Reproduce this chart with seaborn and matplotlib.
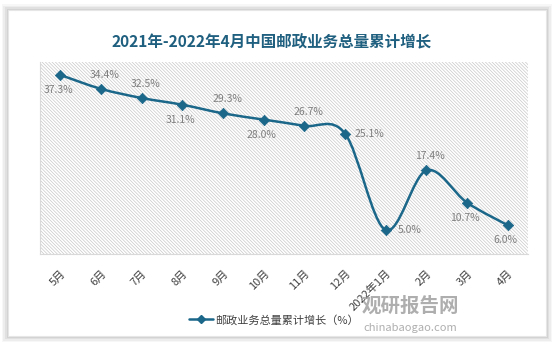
import numpy as np
import matplotlib
matplotlib.use("Agg")
import matplotlib.pyplot as plt
import seaborn as sns
from matplotlib.path import Path
from matplotlib.patches import PathPatch, Rectangle
from matplotlib.lines import Line2D

months = ["5月", "6月", "7月", "8月", "9月", "10月", "11月", "12月",
          "2022年1月", "2月", "3月", "4月"]
growth = [37.3, 34.4, 32.5, 31.1, 29.3, 28.0, 26.7, 25.1, 5.0, 17.4, 10.7, 6.0]
label_pos = ["below", "above", "above", "below", "above", "below", "above",
             "right", "right", "above", "below", "below"]
title = "2021年-2022年4月中国邮政业务总量累计增长"
legend_label = "邮政业务总量累计增长（%）"

sns.set_theme(style="white")
plt.rcParams['font.family'] = ['Noto Sans CJK SC', 'DejaVu Sans']

LINE = "#1b678a"
W, H = 554, 344
fig = plt.figure(figsize=(W / 100, H / 100), dpi=100)
fig.patch.set_facecolor("white")

# card with soft shadow
for i, a in enumerate([0.03, 0.04, 0.05, 0.06]):
    d = (4 - i) * 1.5
    fig.patches.append(Rectangle(((8 - d) / W, (8 - d) / H), (538 + 2 * d) / W, (326 + 2 * d) / H,
                                 transform=fig.transFigure, facecolor="black", alpha=a,
                                 edgecolor="none", zorder=0))
fig.patches.append(Rectangle((8 / W, 8 / H), 538 / W, 326 / H, transform=fig.transFigure,
                             facecolor="white", edgecolor="#e6e6e6", lw=0.8, zorder=1))

ax = fig.add_axes([40 / W, (H - 254) / H, 488 / W, 192 / H])
ax.set_facecolor("none")
ax.set_zorder(2)

x = np.arange(len(months))
ax.set_xlim(-0.5, len(months) - 0.5)
ax.set_ylim(0, 40)

# hatched background
matplotlib.rcParams['hatch.color'] = "#c8c8c8"
matplotlib.rcParams['hatch.linewidth'] = 0.5
ax.add_patch(Rectangle((0, 0), 1, 1, transform=ax.transAxes, facecolor="white",
                       edgecolor="#c8c8c8", hatch="\\" * 10, lw=0, zorder=0))

# smooth curve (Catmull-Rom -> cubic Bezier)
P = np.column_stack([x, growth]).astype(float)
n = len(P)
verts = [tuple(P[0])]
codes = [Path.MOVETO]
for i in range(n - 1):
    p0 = P[i - 1] if i > 0 else P[i]
    p1, p2 = P[i], P[i + 1]
    p3 = P[i + 2] if i + 2 < n else P[i + 1]
    c1 = p1 + (p2 - p0) / 6.0
    c2 = p2 - (p3 - p1) / 6.0
    verts += [tuple(c1), tuple(c2), tuple(p2)]
    codes += [Path.CURVE4] * 3
ax.add_patch(PathPatch(Path(verts, codes), facecolor="none", edgecolor=LINE, lw=1.8, zorder=3))

sns.scatterplot(x=x, y=growth, marker="D", s=28, color=LINE, edgecolor=LINE,
                linewidth=0.5, ax=ax, zorder=4, legend=False)

offsets = {"above": (4, 14), "below": (-2, -15), "right": (24, 0)}
for xi, v, pos in zip(x, growth, label_pos):
    dx, dy = offsets[pos]
    ax.annotate(f"{v:.1f}%", (xi, v), xytext=(dx, dy), textcoords="offset pixels",
                ha="center", va="center", fontsize=7.5, color="#7f7f7f")

ax.set_xticks(x)
ax.set_xticklabels(months, rotation=45, ha="right", rotation_mode="anchor",
                   fontsize=8, color="#404040")
ax.tick_params(axis="x", length=0, pad=10)
ax.set_yticks([])
for s in ["top", "right"]:
    ax.spines[s].set_visible(False)
ax.spines["left"].set_color("#d9d9d9")
ax.spines["bottom"].set_color("#d9d9d9")
ax.spines["left"].set_linewidth(0.8)
ax.spines["bottom"].set_linewidth(0.8)
ax.set_xlabel("")
ax.set_ylabel("")

fig.text(272 / W, 1 - 42 / H, title, ha="center", va="center", fontsize=11.2,
         fontweight="bold", color="#1f5f7f")

handle = Line2D([], [], color=LINE, lw=1.8, marker="D", markersize=4)
fig.legend([handle], [legend_label], loc="center", bbox_to_anchor=(274 / W, 1 - 320 / H),
           frameon=False, fontsize=8, handlelength=2.2, handletextpad=0.2,
           labelcolor="#404040")

# watermark
fig.text(410 / W, 1 - 306 / H, "观研报告网", ha="center", va="center", fontsize=14,
         fontweight="bold", color="#9a9a9a", alpha=0.8, zorder=10)
fig.text(410 / W, 1 - 328 / H, "chinabaogao.com", ha="center", va="center", fontsize=8,
         color="#9a9a9a", alpha=0.8, zorder=10)

fig.savefig("out.png", dpi=100)
